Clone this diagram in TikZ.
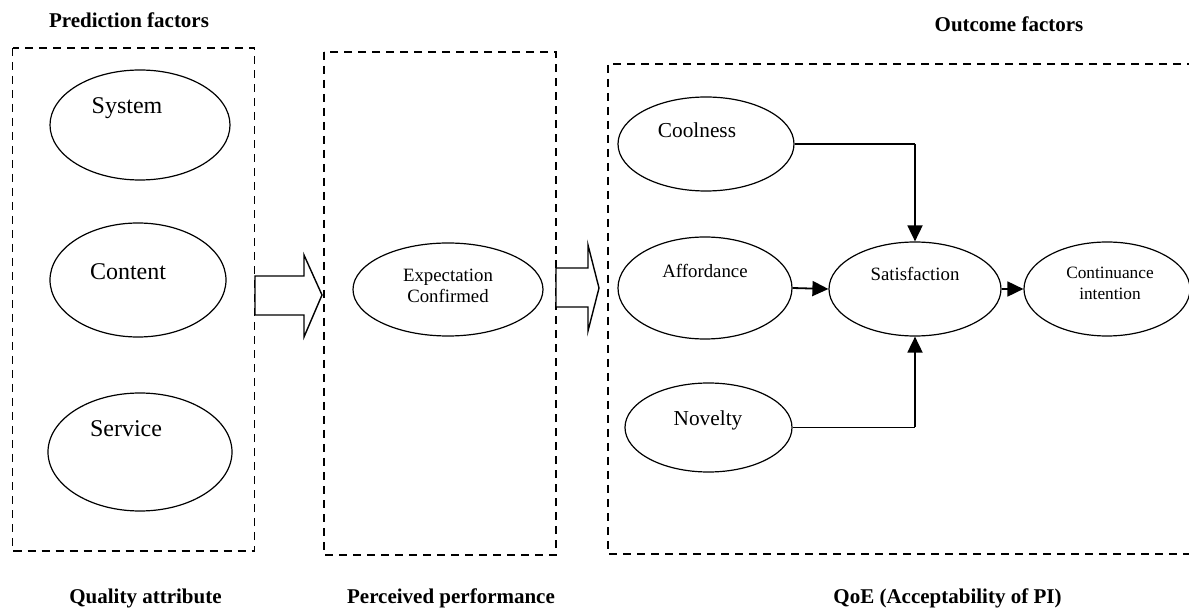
\documentclass[tikz,border=0pt]{standalone}
\usepackage{fontspec}
\setmainfont{Liberation Serif}
\usetikzlibrary{shapes.geometric,arrows.meta}
\tikzset{
  oval/.style={ellipse,draw,line width=1.2pt,inner sep=0pt},
  frame/.style={line width=1.2pt,dash pattern=on 8pt off 6pt},
  title/.style={font=\fontsize{21}{25}\selectfont\bfseries,anchor=base},
  bigtxt/.style={font=\fontsize{24}{28}\selectfont,anchor=base},
  midtxt/.style={font=\fontsize{21.3}{25}\selectfont,anchor=base},
  smalltxt/.style={font=\fontsize{18.8}{22}\selectfont,anchor=base},
  tinytxt/.style={font=\fontsize{17.3}{21}\selectfont,anchor=base},
  link/.style={line width=1.4pt},
  linkarrow/.style={line width=1.8pt,-{Triangle[length=16pt,width=15pt]}},
  blockarrow/.style={draw,line width=1.4pt,fill=white,line join=miter}
}
\begin{document}
\begin{tikzpicture}[x=1pt,y=-1pt]
\useasboundingbox (0,0) rectangle (1189,609);
\clip (0,0) rectangle (1189,609);

% dashed frames
\draw[frame] (12.5,48) rectangle (254.5,551);
\draw[frame] (324,52) rectangle (556,555);
\draw[frame] (1195,64) -- (608,64) -- (608,554) -- (1195,554);

% group titles
\node[title] (tpred) at (129,28) {Prediction factors};
\node[title] (tout) at (1009,32) {Outcome factors};
\node[title] (tqual) at (145.5,603.5) {Quality attribute};
\node[title] (tperc) at (451,603.5) {Perceived performance};
\node[title] (tqoe) at (947.5,603.5) {QoE (Acceptability of PI)};

% left column ellipses
\node[oval,minimum width=180pt,minimum height=110pt] (sys) at (140,125) {};
\node[bigtxt] (systxt) at (127,114) {System};
\node[oval,minimum width=176pt,minimum height=114pt] (con) at (138,280) {};
\node[bigtxt] (contxt) at (128,280) {Content};
\node[oval,minimum width=184pt,minimum height=118pt] (ser) at (140,452) {};
\node[bigtxt] (sertxt) at (126,437) {Service};

% middle
\node[oval,minimum width=190pt,minimum height=93pt] (exp) at (448,289.5) {};
\node[smalltxt] (exptxt1) at (448,282) {Expectation};
\node[smalltxt] (exptxt2) at (448,303) {Confirmed};

% right column
\node[oval,minimum width=176pt,minimum height=94pt] (cool) at (706,144) {};
\node[midtxt] (cooltxt) at (697,137.5) {Coolness};
\node[oval,minimum width=174pt,minimum height=102pt] (aff) at (705,288) {};
\node[smalltxt] (afftxt) at (705,278) {Affordance};
\node[oval,minimum width=167pt,minimum height=89pt] (nov) at (708.5,427.5) {};
\node[midtxt] (novtxt) at (708,425) {Novelty};
\node[oval,minimum width=172pt,minimum height=94pt] (sat) at (915,289) {};
\node[smalltxt] (sattxt) at (915,281) {Satisfaction};
\node[oval,minimum width=166pt,minimum height=94pt] (cont) at (1107,289) {};
\node[tinytxt] (conttxt1) at (1110,279) {Continuance};
\node[tinytxt] (conttxt2) at (1110,300) {intention};

% connectors
\draw[link] (cool.east) -- (cool.east -| sat.north);
\draw[linkarrow] (cool.east -| sat.north) -- (sat.north);
\draw[link] (nov.east) -- (nov.east -| sat.south);
\draw[linkarrow] (nov.east -| sat.south) -- (sat.south);
\draw[linkarrow] (aff.east) -- (sat.west);
\draw[linkarrow] (sat.east) -- (cont.west);

% block arrows
\draw[blockarrow] (255,276) -- (304,276) -- (304,255) -- (322,295) -- (304,337) -- (304,315) -- (255,315) -- cycle;
\draw[blockarrow] (556,268) -- (588,268) -- (588,245) -- (599,288) -- (588,331) -- (588,307) -- (556,307) -- cycle;
\end{tikzpicture}
\end{document}
